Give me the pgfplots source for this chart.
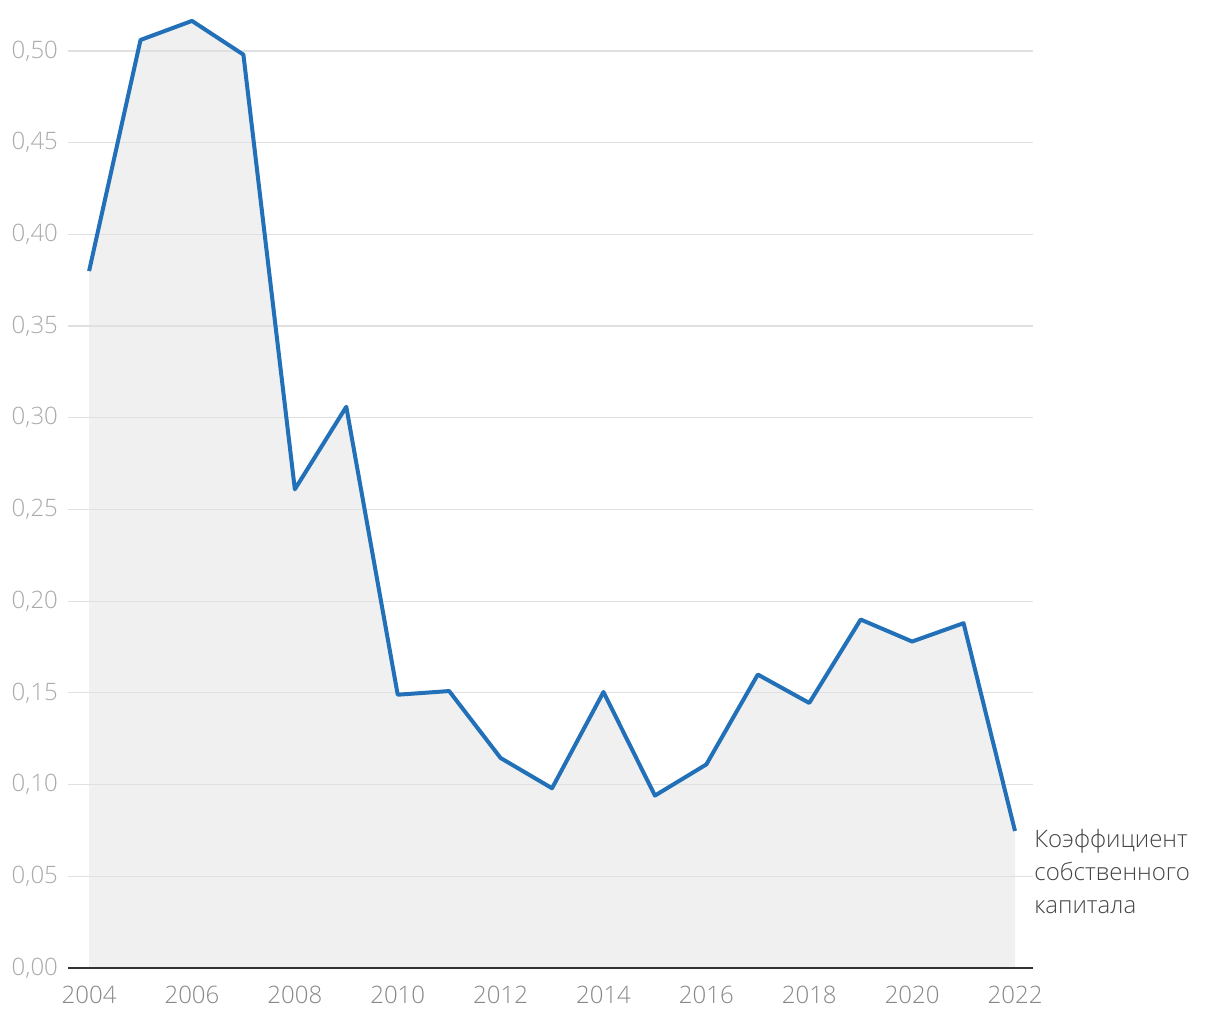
\documentclass[border=0pt]{standalone}
\usepackage{fontspec}
\setmainfont{Open Sans Light}
\usepackage{pgfplots}
\pgfplotsset{compat=1.18}

\definecolor{linecol}{HTML}{2170B8}
\definecolor{areacol}{HTML}{F0F0F0}
\definecolor{gridcol}{HTML}{E0E0E0}
\definecolor{ytickcol}{HTML}{AAAAAA}
\definecolor{xtickcol}{HTML}{888888}
\definecolor{labelcol}{HTML}{444444}

\begin{document}
\begin{tikzpicture}
	\begin{axis}[
			set layers,
			scale only axis,
			width=482.5pt, height=484pt,
			xmin=2003.59, xmax=2022.35,
			ymin=0, ymax=0.5278,
			clip=false,
			axis line style={draw=none},
			ymajorgrids,
			grid style={gridcol, line width=0.6pt},
			major tick length=0pt,
			xtick={2004,2006,...,2022},
			ytick={0,0.05,...,0.5},
			xtick pos=bottom, ytick pos=left,
			/pgf/number format/assume math mode=true,
			x tick label style={text=xtickcol, font=\fontsize{12}{14}\selectfont,
				/pgf/number format/1000 sep={}, yshift=-5.5pt},
			y tick label style={text=ytickcol, font=\fontsize{12}{14}\selectfont,
				xshift=-1.5pt,
				/pgf/number format/.cd, fixed, fixed zerofill, precision=2, use comma},
		]
		\addplot[on layer=axis background, fill=areacol, draw=none] coordinates {
				(2004,0.380) (2005,0.506) (2006,0.5164) (2007,0.498) (2008,0.261)
				(2009,0.306) (2010,0.149) (2011,0.151) (2012,0.1145) (2013,0.098)
				(2014,0.1505) (2015,0.094) (2016,0.111) (2017,0.160) (2018,0.1445)
				(2019,0.190) (2020,0.178) (2021,0.188) (2022,0.0747)
			} \closedcycle;
		\addplot[linecol, line width=2pt, line join=round, mark=none] coordinates {
				(2004,0.380) (2005,0.506) (2006,0.5164) (2007,0.498) (2008,0.261)
				(2009,0.306) (2010,0.149) (2011,0.151) (2012,0.1145) (2013,0.098)
				(2014,0.1505) (2015,0.094) (2016,0.111) (2017,0.160) (2018,0.1445)
				(2019,0.190) (2020,0.178) (2021,0.188) (2022,0.0747)
			};
		\draw[color=black!80, line width=1pt] (rel axis cs:0,0) -- (rel axis cs:1,0);
		\node[anchor=north west, inner sep=0pt, align=left, text=labelcol,
			font=\fontsize{12}{16.5}\selectfont]
			at (axis cs:2022.37,0.0760) {Коэффициент\\собственного\\капитала};
	\end{axis}
	% page = 1220 x 1020 px at 0.5pt a pixel; axis box starts at px (68, 968)
	\path (-34pt,-26pt) rectangle (576pt,484pt);
\end{tikzpicture}
\end{document}
